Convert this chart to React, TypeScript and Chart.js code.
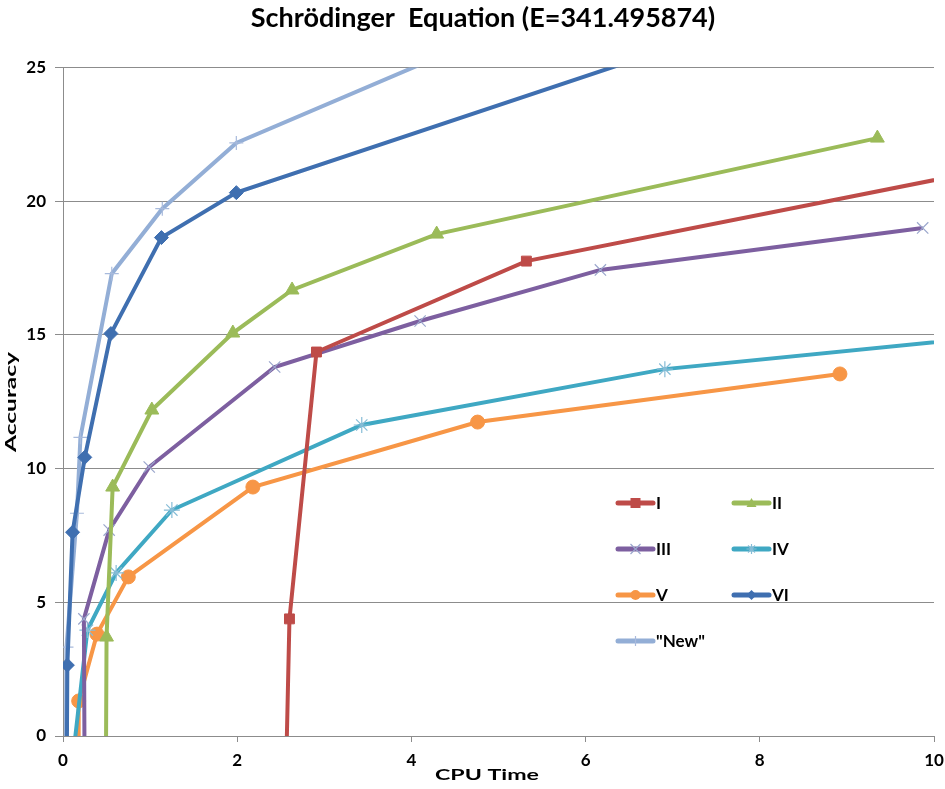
import React, { useEffect, useRef } from "react";
import { Chart, registerables } from "chart.js";

Chart.register(...registerables);

const chartTitle = "Schrödinger  Equation (E=341.495874)";
const xAxisTitle = "CPU Time";
const yAxisTitle = "Accuracy";
const xTicks = [0, 2, 4, 6, 8, 10];
const yTicks = [0, 5, 10, 15, 20, 25];

const seriesNames = ["I", "II", "III", "IV", "V", "VI", "\"New\""];

const iX = [2.55, 2.6, 2.91, 5.32, 11.5];
const iY = [-3, 4.38, 14.36, 17.76, 21.76];

const iiX = [0.49, 0.5, 0.57, 1.02, 1.95, 2.63, 4.29, 9.35];
const iiY = [-3, 3.7, 9.31, 12.19, 15.07, 16.68, 18.77, 22.36];

const iiiX = [0.25, 0.24, 0.53, 0.99, 2.43, 4.1, 6.17, 9.87];
const iiiY = [-3, 4.38, 7.7, 10.06, 13.8, 15.52, 17.43, 19.0];

const ivX = [0.09, 0.28, 0.61, 1.25, 3.43, 6.91, 12.0];
const ivY = [-1.5, 3.96, 6.1, 8.45, 11.63, 13.72, 15.38];

const vX = [0.18, 0.18, 0.39, 0.75, 2.18, 4.76, 8.92];
const vY = [-3, 1.31, 3.81, 5.95, 9.31, 11.74, 13.54];

const viX = [0.04, 0.05, 0.11, 0.25, 0.55, 1.13, 1.99, 8.5];
const viY = [-3, 2.65, 7.62, 10.42, 15.05, 18.64, 20.32, 27.39];

const newX = [0.03, 0.04, 0.16, 0.2, 0.56, 1.14, 1.99, 5.0];
const newY = [-3, 3.32, 8.33, 11.17, 17.29, 19.72, 22.18, 26.36];

const lineColors = ["#BE4B48", "#9BBB59", "#7D5FA0", "#3FA8C3", "#F79646", "#3F6FB0", "#93AED6"];
const markerStyles = ["rect", "triangle", "crossRot", "star", "circle", "rectRot", "cross"];
const markerEdge = ["#BE4B48", "#9BBB59", "#9AA6CC", "#86BCD6", "#F79646", "#3F6FB0", "#A8BADC"];
const markerRadius = [7, 8, 8, 8, 7, 7, 7];
const markerEdgeWidth = [1, 1, 1.2, 1.2, 1, 1, 1.2];

const seriesXs = [iX, iiX, iiiX, ivX, vX, viX, newX];
const seriesYs = [iY, iiY, iiiY, ivY, vY, viY, newY];

const FONT = "Lato, 'Open Sans', 'DejaVu Sans', sans-serif";

function drawMarker(ctx: CanvasRenderingContext2D, style: string, x: number, y: number, r: number, fill: string, edge: string) {
  ctx.save();
  ctx.fillStyle = fill;
  ctx.strokeStyle = edge;
  ctx.lineWidth = 1.2;
  ctx.beginPath();
  if (style === "rect") {
    ctx.rect(x - r, y - r, 2 * r, 2 * r);
    ctx.fill();
  } else if (style === "triangle") {
    ctx.moveTo(x, y - r);
    ctx.lineTo(x + r, y + r * 0.8);
    ctx.lineTo(x - r, y + r * 0.8);
    ctx.closePath();
    ctx.fill();
  } else if (style === "circle") {
    ctx.arc(x, y, r, 0, Math.PI * 2);
    ctx.fill();
  } else if (style === "rectRot") {
    ctx.moveTo(x, y - r);
    ctx.lineTo(x + r, y);
    ctx.lineTo(x, y + r);
    ctx.lineTo(x - r, y);
    ctx.closePath();
    ctx.fill();
  } else if (style === "crossRot") {
    ctx.moveTo(x - r, y - r);
    ctx.lineTo(x + r, y + r);
    ctx.moveTo(x + r, y - r);
    ctx.lineTo(x - r, y + r);
    ctx.stroke();
  } else if (style === "star") {
    ctx.moveTo(x - r, y);
    ctx.lineTo(x + r, y);
    ctx.moveTo(x, y - r);
    ctx.lineTo(x, y + r);
    ctx.moveTo(x - r * 0.7, y - r * 0.7);
    ctx.lineTo(x + r * 0.7, y + r * 0.7);
    ctx.moveTo(x + r * 0.7, y - r * 0.7);
    ctx.lineTo(x - r * 0.7, y + r * 0.7);
    ctx.stroke();
  } else {
    ctx.moveTo(x, y - r);
    ctx.lineTo(x, y + r);
    ctx.stroke();
  }
  ctx.restore();
}

function drawStretched(ctx: CanvasRenderingContext2D, text: string, cx: number, cy: number, targetWidth: number, angle: number) {
  const w = ctx.measureText(text).width;
  ctx.save();
  ctx.translate(cx, cy);
  ctx.rotate(angle);
  ctx.scale(targetWidth / w, 1);
  ctx.fillText(text, 0, 0);
  ctx.restore();
}

const overlayPlugin = {
  id: "overlay",
  afterDraw(chart: any) {
    const ctx: CanvasRenderingContext2D = chart.ctx;
    ctx.save();
    ctx.fillStyle = "#000";
    ctx.textAlign = "center";
    ctx.textBaseline = "middle";
    ctx.font = `bold 27px ${FONT}`;
    ctx.fillText(chartTitle, 483, 18);

    ctx.font = `bold 16px ${FONT}`;
    drawStretched(ctx, xAxisTitle, 487, 775, 104, 0);
    drawStretched(ctx, yAxisTitle, 11, 402, 100, -Math.PI / 2);

    // legend, two columns inside the plot
    const colX = [618, 734];
    const rowY = [503, 549, 595, 641];
    const lineLen = 35;
    ctx.font = `bold 17px ${FONT}`;
    ctx.textAlign = "left";
    seriesNames.forEach((name, i) => {
      const cx = colX[i % 2];
      const cy = rowY[Math.floor(i / 2)];
      ctx.save();
      ctx.strokeStyle = lineColors[i];
      ctx.lineWidth = 5;
      ctx.lineCap = "round";
      ctx.beginPath();
      ctx.moveTo(cx, cy);
      ctx.lineTo(cx + lineLen, cy);
      ctx.stroke();
      ctx.restore();
      drawMarker(ctx, markerStyles[i], cx + lineLen / 2, cy, 5, lineColors[i], markerEdge[i]);
      ctx.fillStyle = "#000";
      ctx.fillText(name, cx + lineLen + 3, cy + 1);
    });
    ctx.restore();
  },
};

export default function App() {
  const ref = useRef<HTMLCanvasElement | null>(null);

  useEffect(() => {
    document.body.style.margin = "0";
    const canvas = ref.current;
    if (!canvas) return;
    const datasets = seriesNames.map((name, i) => ({
      label: name,
      data: seriesXs[i].map((x, j) => ({ x, y: seriesYs[i][j] })),
      borderColor: lineColors[i],
      backgroundColor: lineColors[i],
      borderWidth: 4,
      pointStyle: markerStyles[i] as any,
      pointRadius: markerRadius[i],
      pointBackgroundColor: lineColors[i],
      pointBorderColor: markerEdge[i],
      pointBorderWidth: markerEdgeWidth[i],
      showLine: true,
      tension: 0,
      clip: 0,
    }));

    const chart = new Chart(canvas, {
      type: "scatter",
      data: { datasets },
      plugins: [overlayPlugin],
      options: {
        responsive: false,
        animation: false,
        layout: { padding: { top: 67.5, right: 11, left: 0, bottom: 0 } },
        plugins: {
          legend: { display: false },
          title: { display: false },
          tooltip: { enabled: false },
        },
        scales: {
          x: {
            type: "linear",
            min: 0,
            max: 10,
            afterFit: (s: any) => {
              s.height = 53;
              s.paddingLeft = 0;
              s.paddingRight = 0;
            },
            afterBuildTicks: (s: any) => {
              s.ticks = xTicks.map((v) => ({ value: v }));
            },
            ticks: {
              color: "#000",
              font: { family: FONT, size: 17, weight: "bold" },
              padding: 8,
              maxRotation: 0,
            },
            grid: {
              drawOnChartArea: false,
              drawTicks: true,
              tickLength: 6,
              color: "#8C8C8C",
            },
            border: { display: true, color: "#8C8C8C", width: 1 },
          },
          y: {
            type: "linear",
            min: 0,
            max: 25,
            afterFit: (s: any) => {
              s.width = 63;
              s.paddingTop = 0;
              s.paddingBottom = 0;
            },
            afterBuildTicks: (s: any) => {
              s.ticks = yTicks.map((v) => ({ value: v }));
            },
            ticks: {
              color: "#000",
              font: { family: FONT, size: 17, weight: "bold" },
              padding: 9,
            },
            grid: {
              drawOnChartArea: true,
              drawTicks: true,
              tickLength: 8,
              color: "#8C8C8C",
            },
            border: { display: true, color: "#8C8C8C", width: 1 },
          },
        },
      } as any,
    });
    return () => chart.destroy();
  }, []);

  return (
    <div style={{ width: 945, height: 789, background: "#fff" }}>
      <canvas ref={ref} width={945} height={789} style={{ width: 945, height: 789, display: "block" }} />
    </div>
  );
}
